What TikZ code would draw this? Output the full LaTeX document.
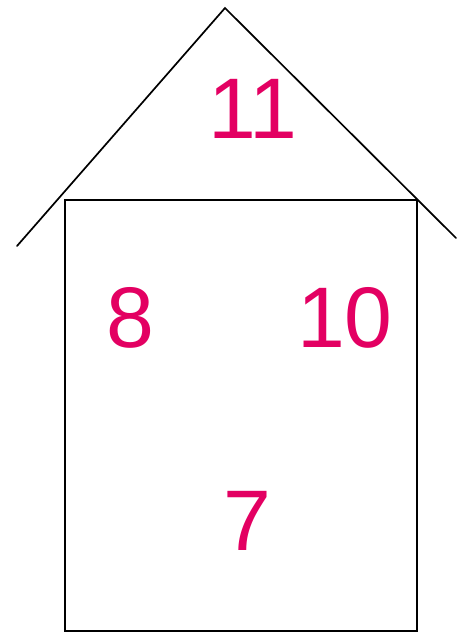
\documentclass[tikz,border=0pt]{standalone}
\usepackage{fontspec}
\setmainfont{Liberation Sans}
\definecolor{num}{RGB}{227,0,98}
\begin{document}
\begin{tikzpicture}[x=1pt,y=-1pt,
  numlabel/.style={anchor=base,inner sep=0pt,text=num,font=\fontsize{86}{86}\selectfont},
  wall/.style={draw=black,line width=2pt},
  roofline/.style={draw=black,line width=1.7pt,line cap=round}]
\useasboundingbox (0,0) rectangle (456,632);
\coordinate (rl) at (17,246);
\coordinate (apex) at (225,8);
\coordinate (rr) at (456,238);
\draw[roofline] (rl) -- (apex) -- (rr);
\draw[wall] (65,200) rectangle (417,631);
\node[numlabel] (n11) at (253,138) {11};
\node[numlabel] (n8) at (130,347) {8};
\node[numlabel] (n10) at (345,347) {10};
\node[numlabel] (n7) at (247,550) {7};
\end{tikzpicture}
\end{document}
